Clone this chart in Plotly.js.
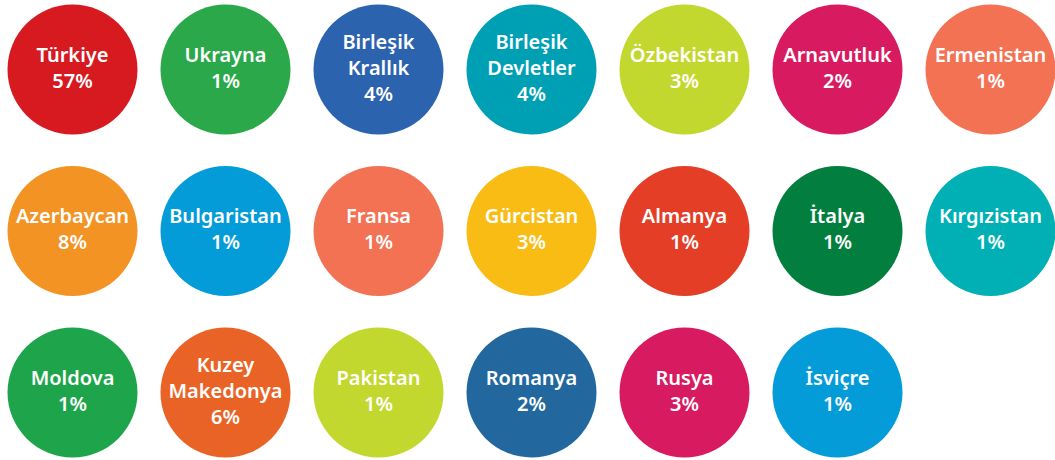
<!DOCTYPE html>
<html>
<head>
<meta charset="utf-8">
<script src="https://cdn.plot.ly/plotly-3.0.1.min.js"></script>
<style>html,body{margin:0;padding:0;background:#fff;}#chart{width:1055px;height:460px;}</style>
</head>
<body>
<div id="chart"></div>
<script>
const countries = ["Türkiye","Ukrayna","Birleşik<br>Krallık","Birleşik<br>Devletler","Özbekistan","Arnavutluk","Ermenistan",
  "Azerbaycan","Bulgaristan","Fransa","Gürcistan","Almanya","İtalya","Kırgızistan",
  "Moldova","Kuzey<br>Makedonya","Pakistan","Romanya","Rusya","İsviçre"];
const shares = [57,1,4,4,3,2,1, 8,1,1,3,1,1,1, 1,6,1,2,3,1];
const colors = ["#D71920","#2AA84A","#2B63AF","#00A0B4","#C2D82F","#D81A60","#F37254",
  "#F39323","#039CD8","#F37254","#F8BC15","#E43E26","#027F3E","#00B0B5",
  "#1EA54B","#EA6326","#C2D82F","#22689E","#D81A60","#049CD8"];
const perRow = 7;

const xs = countries.map((_, i) => i % perRow);
const ys = countries.map((_, i) => -Math.floor(i / perRow));
const texts = countries.map((c, i) => c + "<br>" + shares[i] + "%");

const trace = {
  type: "scatter",
  mode: "markers+text",
  x: xs, y: ys,
  text: texts,
  textposition: "middle center",
  textfont: {family: "Noto Sans, Open Sans, sans-serif", size: 20, color: "#ffffff", weight: 600},
  marker: {size: 130, color: colors, line: {width: 0}, opacity: 1},
  hoverinfo: "none",
  cliponaxis: false
};

const layout = {
  width: 1055, height: 460,
  margin: {l: 0, r: 0, t: 0, b: 0},
  paper_bgcolor: "#ffffff", plot_bgcolor: "#ffffff",
  showlegend: false,
  xaxis: {range: [-72.5/153, (1055-72.5)/153], visible: false, fixedrange: true},
  yaxis: {range: [-(460-69.5)/161.5, 69.5/161.5], visible: false, fixedrange: true}
};

Plotly.newPlot("chart", [trace], layout, {displayModeBar: false, staticPlot: true});
</script>
</body>
</html>
